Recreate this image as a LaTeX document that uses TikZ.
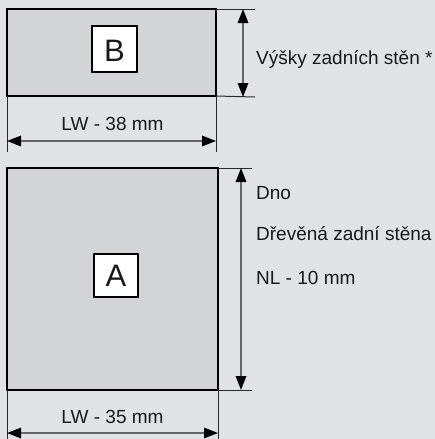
\documentclass[tikz,border=0pt]{standalone}
\usepackage{fontspec}
\setmainfont{Liberation Sans}
\usetikzlibrary{arrows.meta}
\definecolor{bgc}{HTML}{E1E2E4}
\definecolor{panelc}{HTML}{D3D4D6}
\definecolor{dimc}{HTML}{666666}
\definecolor{extc}{HTML}{2A2A2A}
\tikzset{
  panel/.style={draw=black, line width=1.6pt, fill=panelc, inner sep=0pt, outer sep=0pt},
  letterbox/.style={draw=black, line width=1.6pt, fill=white, inner sep=0pt, outer sep=0pt},
  bigletter/.style={anchor=base, inner sep=0pt, font=\fontsize{31}{31}\selectfont, text=black!90},
  extline/.style={draw=extc, line width=1pt},
  dimline/.style={draw=dimc, line width=1.6pt, {Triangle[length=14pt,width=10.5pt,color=black]}-{Triangle[length=14pt,width=10.5pt,color=black]}},
  lbl/.style={inner sep=0pt, font=\fontsize{19}{22}\selectfont, text=black!90},
}
\begin{document}
\begin{tikzpicture}[x=1pt,y=-1pt]
\useasboundingbox (0,0) rectangle (435,439);
\fill[bgc] (0,0) rectangle (435,439);
% panel B
\node[panel, minimum width=209pt, minimum height=87pt] (rB) at (111.5,52.5) {};
\node[letterbox, minimum width=45pt, minimum height=46pt] (bB) at (114.5,49) {};
\node[bigletter] (tB) at (114.5,61.5) {B};
% extension lines B
\coordinate (eB1) at (rB.south west |- 0,152);
\coordinate (eB2) at (rB.south east |- 0,152);
\draw[extline] (rB.south west) -- (eB1);
\draw[extline] (rB.south east) -- (eB2);
\coordinate (hB1) at (rB.south west |- 0,141);
\coordinate (hB2) at (rB.south east |- 0,141);
\draw[dimline] (hB1) -- (hB2);
\node[lbl, anchor=base] (lB) at (112.5,130) {LW - 38 mm};
% vertical dimension B
\coordinate (vB1) at (255,9);
\coordinate (vB2) at (255,97);
\draw[extline] (rB.north east) -- (vB1);
\draw[extline] (rB.south east) -- (vB2);
\coordinate (aB1) at (243,9);
\coordinate (aB2) at (243,97);
\draw[dimline] (aB1) -- (aB2);
\node[lbl, anchor=base west] (vyB) at (256,64) {Výšky zadních stěn *};
% panel A
\node[panel, minimum width=211pt, minimum height=222pt] (rA) at (112.5,279) {};
\node[letterbox, minimum width=44pt, minimum height=43pt] (bA) at (116,275.5) {};
\node[bigletter] (tA) at (116,286.5) {A};
\coordinate (eA1) at (rA.south west |- 0,439);
\coordinate (eA2) at (rA.south east |- 0,439);
\draw[extline] (rA.south west) -- (eA1);
\draw[extline] (rA.south east) -- (eA2);
\coordinate (hA1) at (rA.south west |- 0,433);
\coordinate (hA2) at (rA.south east |- 0,433);
\draw[dimline] (hA1) -- (hA2);
\node[lbl, anchor=base] (lA) at (112.5,423) {LW - 35 mm};
% vertical dimension A
\coordinate (vA1) at (252,168);
\coordinate (vA2) at (252,390);
\draw[extline] (rA.north east) -- (vA1);
\draw[extline] (rA.south east) -- (vA2);
\coordinate (aA1) at (241,168);
\coordinate (aA2) at (241,390);
\draw[dimline] (aA1) -- (aA2);
\node[lbl, anchor=base west] (dno) at (256,199) {Dno};
\node[lbl, anchor=base west] (dz) at (256,240) {Dřevěná zadní stěna};
\node[lbl, anchor=base west] (nl) at (256,284) {NL - 10 mm};
\end{tikzpicture}
\end{document}
